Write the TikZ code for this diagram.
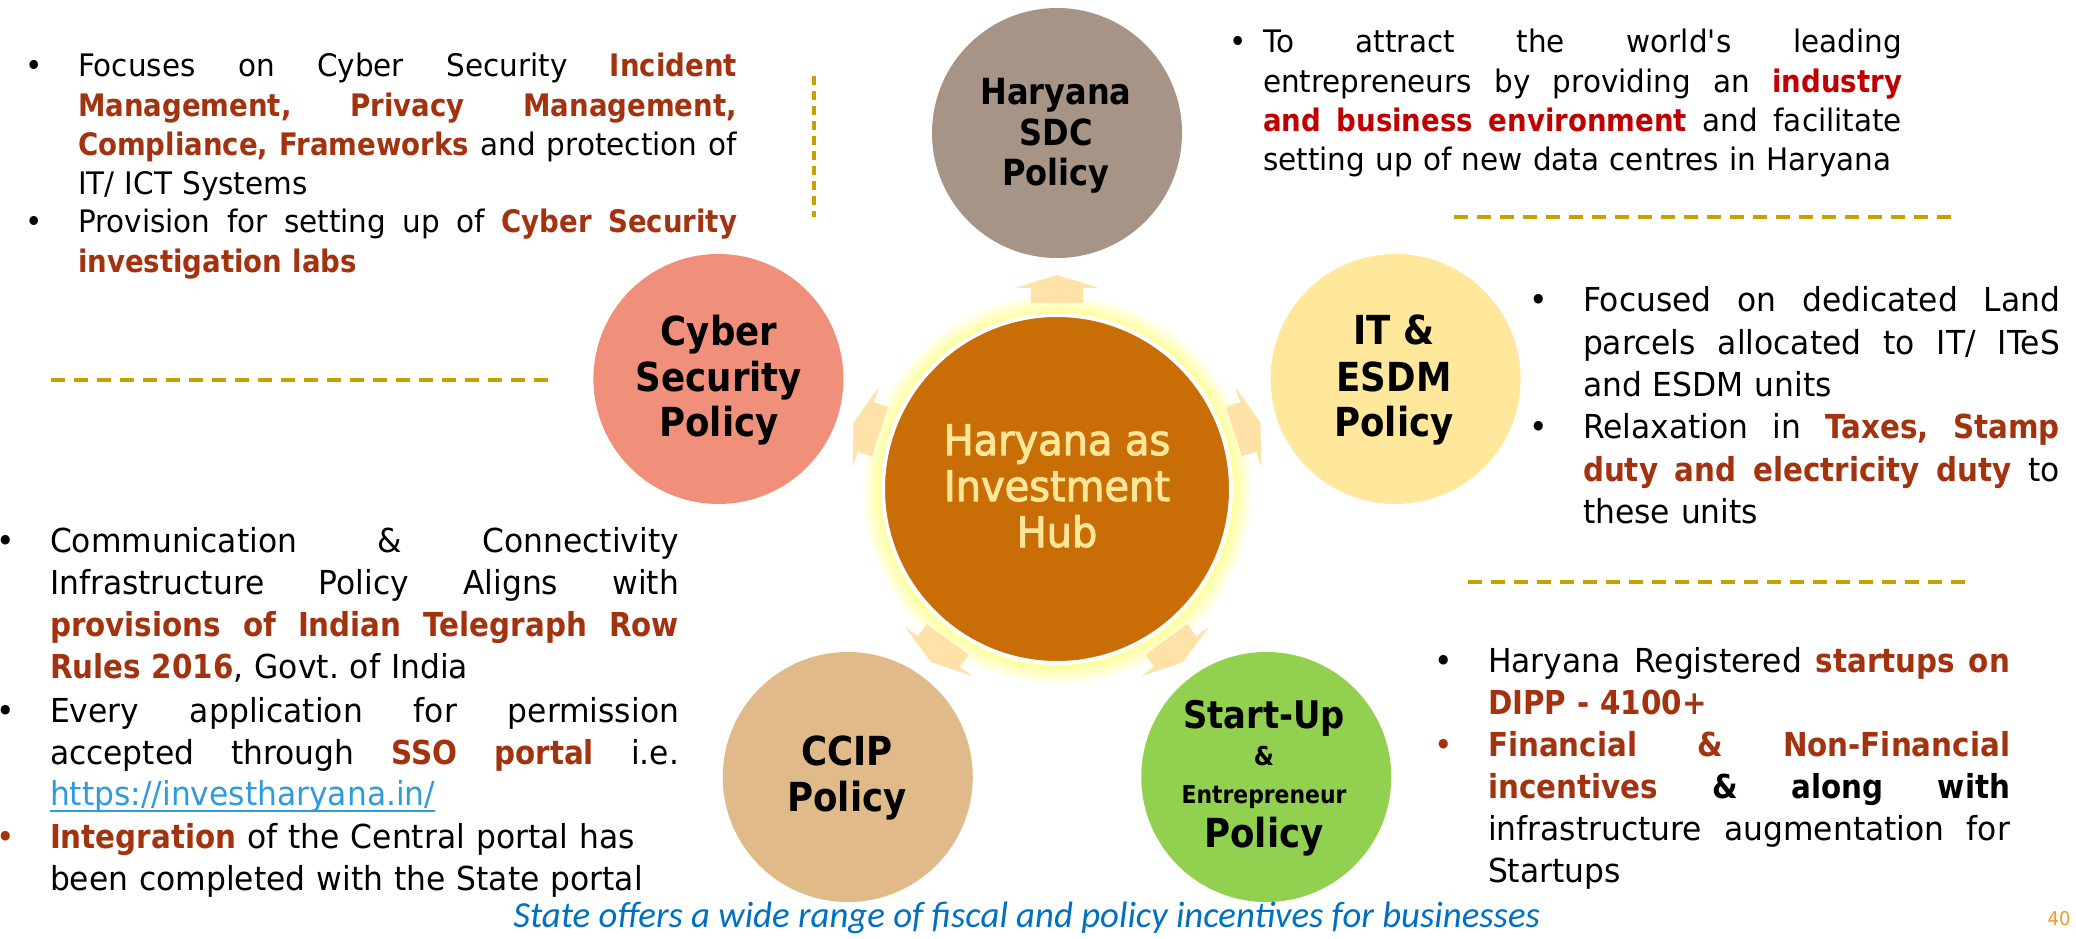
\documentclass[tikz,border=0pt]{standalone}
\usepackage{fontspec}
\usetikzlibrary{calc}
\setmainfont{DejaVu Sans}[FakeStretch=0.95]
\newfontfamily\bdfont{DejaVu Sans}[FakeStretch=0.89]
\newfontfamily\hubfont{DejaVu Sans}[FakeStretch=0.95, FakeBold=2.5]
\newfontfamily\footfont{Carlito}
\definecolor{hubc}{HTML}{C96D07}
\definecolor{hubtxt}{HTML}{FFE699}
\definecolor{sdcc}{HTML}{A69487}
\definecolor{cyc}{HTML}{F0907B}
\definecolor{itc}{HTML}{FFE79B}
\definecolor{ccc}{HTML}{E0BB89}
\definecolor{suc}{HTML}{92D050}
\definecolor{arrc}{HTML}{FEE2A8}
\definecolor{glowc}{HTML}{FFFF99}
\definecolor{rust}{HTML}{A3320F}
\definecolor{sdcred}{HTML}{C00000}
\definecolor{gold}{HTML}{C8A000}
\definecolor{linkc}{HTML}{2E9BDE}
\definecolor{footc}{HTML}{0070C0}
\definecolor{pgc}{HTML}{F59B23}
\newcommand{\Rb}[1]{{\bdfont\bfseries\color{rust}#1}}
\newcommand{\Rd}[1]{{\bdfont\bfseries\color{sdcred}#1}}
\newcommand{\Bk}[1]{{\bdfont\bfseries #1}}
\newdimen\Jw
\newcommand{\J}[1]{\hbox to \Jw{\spaceskip=0.3em plus 1fil\relax #1}}
\newcommand{\Ln}[1]{\hbox{#1}}
\hbadness=10000 \hfuzz=30pt
\frenchspacing
\pgfdeclareradialshading{hubglow}{\pgfpointorigin}{color(0bp)=(glowc); color(22.4bp)=(glowc); color(25bp)=(white); color(50bp)=(white)}
\begin{document}
\begin{tikzpicture}[x=0.5pt, y=0.5pt,
  sat/.style={circle, inner sep=0pt, minimum size=125pt},
  ctext/.style={anchor=base, inner sep=0pt, font=\bdfont\bfseries\fontsize{20}{24}\selectfont},
  htext/.style={anchor=base, inner sep=0pt, text=hubtxt, font=\hubfont\fontsize{21}{23}\selectfont},
  para/.style={anchor=base west, inner sep=0pt, outer sep=0pt},
  fa/.style={font=\fontsize{15.5}{19.6}\selectfont},
  fb/.style={font=\fontsize{16.5}{21.1}\selectfont},
  bul/.style={anchor=base, inner sep=0pt},
  dline/.style={draw=gold, line width=1.7pt, dash pattern=on 7pt off 4.5pt},
  arrowshape/.style={fill=arrc}
]
\fill[white] (0,0) rectangle (2076,938);
\useasboundingbox (0,0) rectangle (2076,938);

% hub glow
\coordinate (hc) at (1057,449);
\shade[shading=hubglow] (hc) circle[radius=98pt];

% arrows
\foreach \a in {90,162,234,306,18}{
  \begin{scope}[shift={(hc)}, rotate=\a]
    \fill[arrowshape] (186,-26) -- (201,-26) -- (201,-42) -- (214,0) -- (201,42) -- (201,26) -- (186,26) -- cycle;
  \end{scope}
}

% hub
\node[circle, fill=hubc, draw=white, line width=2pt, minimum size=174pt, inner sep=0pt] (hub) at (hc) {};
\node[htext] (h1) at (1057,483) {Haryana as};
\node[htext] (h2) at (1057,437) {Investment};
\node[htext] (h3) at (1057,391) {Hub};

% satellites
\node[sat, fill=sdcc] (sdc) at ($(hc)+(90:356)$) {};
\node[sat, fill=cyc] (cyb) at ($(hc)+(162:356)$) {};
\node[sat, fill=ccc] (ccip) at ($(hc)+(234:356)$) {};
\node[sat, fill=suc] (sup) at ($(hc)+(306:356)$) {};
\node[sat, fill=itc] (itp) at ($(hc)+(18:356)$) {};

% satellite texts
\node[ctext, font=\bdfont\bfseries\fontsize{18}{20}\selectfont] (s1) at (1056,833) {Haryana};
\node[ctext, font=\bdfont\bfseries\fontsize{18}{20}\selectfont] (s2) at (1056,792) {SDC};
\node[ctext, font=\bdfont\bfseries\fontsize{18}{20}\selectfont] (s3) at (1056,752) {Policy};

\node[ctext] (c1) at (719,592) {Cyber};
\node[ctext] (c2) at (719,546) {Security};
\node[ctext] (c3) at (719,501) {Policy};

\node[ctext] (i1) at (1394,593) {IT \&};
\node[ctext] (i2) at (1394,546) {ESDM};
\node[ctext] (i3) at (1394,501) {Policy};

\node[ctext] (p1) at (847,173) {CCIP};
\node[ctext] (p2) at (847,127) {Policy};

\node[ctext, font=\bdfont\bfseries\fontsize{19}{21}\selectfont] (u1) at (1264,210) {Start-Up};
\node[ctext, font=\bdfont\bfseries\fontsize{13}{15}\selectfont] (u2) at (1264,173) {\&};
\node[ctext, font=\bdfont\bfseries\fontsize{12.3}{14}\selectfont] (u3) at (1264,135) {Entrepreneur};
\node[ctext] (u4) at (1264,91) {Policy};

% dashed separators
\coordinate (d1a) at (51,558); \coordinate (d1b) at (549,558);
\coordinate (d2a) at (814,862); \coordinate (d2b) at (814,721);
\coordinate (d3a) at (1454,721); \coordinate (d3b) at (1951,721);
\coordinate (d4a) at (1468,356); \coordinate (d4b) at (1968,356);
\draw[dline] (d1a) -- (d1b);
\draw[dline, dash pattern=on 4.5pt off 3pt] (d2a) -- (d2b);
\draw[dline] (d3a) -- (d3b);
\draw[dline] (d4a) -- (d4b);

% block 1: cyber security
\node[bul, fa] (b1a) at (34,861) {•};
\node[para, fa, text width=329.5pt] (t1a) at (78,861) {\Jw=329.5pt
\J{Focuses on Cyber Security \Rb{Incident}}
\J{\Rb{Management, Privacy Management,}}
\J{\Rb{Compliance, Frameworks} and protection of}
\Ln{IT/ ICT Systems}};
\node[bul, fa] (b1b) at (34,705) {•};
\node[para, fa, text width=329.5pt] (t1b) at (78,705) {\Jw=329.5pt
\J{Provision for setting up of \Rb{Cyber Security}}
\Ln{\Rb{investigation labs}}};

% block 2: SDC
\node[bul, fa] (b2a) at (1238,885) {•};
\node[para, fa, text width=319.5pt] (t2a) at (1263,885) {\Jw=319.5pt
\J{To attract the world\textquotesingle s leading}
\J{entrepreneurs by providing an \Rd{industry}}
\J{\Rd{and business environment} and facilitate}
\Ln{setting up of new data centres in Haryana}};

% block 3: IT & ESDM
\node[bul, fb] (b3a) at (1539,626) {•};
\node[para, fb, text width=238.5pt] (t3a) at (1583,626) {\Jw=238.5pt
\J{Focused on dedicated Land}
\J{parcels allocated to IT/ ITeS}
\Ln{and ESDM units}};
\node[bul, fb] (b3b) at (1539,499) {•};
\node[para, fb, text width=238.5pt] (t3b) at (1583,499) {\Jw=238.5pt
\J{Relaxation in \Rb{Taxes, Stamp}}
\J{\Rb{duty and electricity duty} to}
\Ln{these units}};

% block 4: CCIP
\node[bul, fb] (b4a) at (6,386) {•};
\node[para, fb, text width=314.5pt] (t4a) at (50,386) {\Jw=314.5pt
\J{Communication \& Connectivity}
\J{Infrastructure Policy Aligns with}
\J{\Rb{provisions of Indian Telegraph Row}}
\Ln{\Rb{Rules 2016}, Govt. of India}};
\node[bul, fb] (b4b) at (6,216) {•};
\node[para, fb, text width=314.5pt] (t4b) at (50,216) {\Jw=314.5pt
\J{Every application for permission}
\J{accepted through \Rb{SSO portal} i.e.}};
\node[para, fb, text=linkc] (lnk) at (50,133) {https://investharyana.in/};
\draw[linkc, line width=0.9pt] ([yshift=-3pt]lnk.base west) -- ([yshift=-3pt]lnk.base east);
\node[bul, fb, text=rust] (b4c) at (6,90) {•};
\node[para, fb, text width=314.5pt] (t4c) at (50,90) {\Ln{\Rb{Integration} of the Central portal has}
\Ln{been completed with the State portal}};

% block 5: Start-up
\node[bul, fb] (b5a) at (1444,266) {•};
\node[para, fb, text width=261pt] (t5a) at (1488,266) {\Jw=261pt
\J{Haryana Registered \Rb{startups on}}
\Ln{\Rb{DIPP - 4100+}}};
\node[bul, fb, text=rust] (b5b) at (1444,182) {•};
\node[para, fb, text width=261pt] (t5b) at (1488,182) {\Jw=261pt
\J{\Rb{Financial \& Non-Financial}}
\J{\Rb{incentives} \Bk{\& along with}}
\J{infrastructure augmentation for}
\Ln{Startups}};

% footer
\node[anchor=base west, inner sep=0pt, text=footc, font=\footfont\itshape\fontsize{18.4}{20}\selectfont] (foot) at (513,11) {State offers a wide range of fiscal and policy incentives for businesses};
\node[anchor=base east, inner sep=0pt, text=pgc, font=\fontsize{9.5}{11}\selectfont] (pg) at (2071,13) {40};
\end{tikzpicture}
\end{document}
